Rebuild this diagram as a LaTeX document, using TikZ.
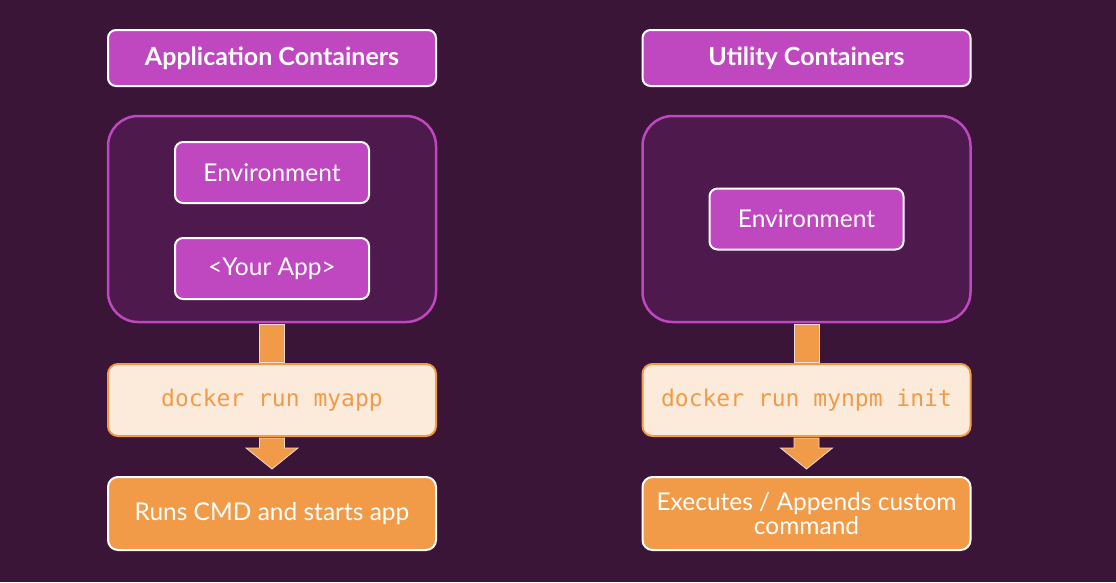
\documentclass[tikz,border=0pt]{standalone}
\usepackage{fontspec}
\setmainfont{Lato}
\setmonofont{DejaVu Sans Mono}
\usetikzlibrary{calc}
\definecolor{bgpurple}{HTML}{3B1538}
\definecolor{boxpurple}{HTML}{4E1A4E}
\definecolor{pink}{HTML}{BF47BF}
\definecolor{orange}{HTML}{F19B48}
\definecolor{cream}{HTML}{FCEBDB}
\definecolor{edge}{HTML}{EED8D4}

\begin{document}
\begin{tikzpicture}[x=1pt, y=-1pt]
            \tikzstyle{title} = [rounded corners=8pt, fill=pink, draw=white, line width=2pt, minimum width=328pt, minimum height=56pt, text=white, font=\fontsize{25}{29}\selectfont\bfseries]
            \tikzstyle{container} = [rounded corners=30pt, fill=boxpurple, draw=pink, line width=2.5pt, minimum width=328pt, minimum height=206pt]
            \tikzstyle{part} = [rounded corners=8pt, fill=pink, draw=white, line width=2pt, minimum width=194pt, minimum height=61pt, text=white, font=\fontsize{24.5}{28}\selectfont]
            \tikzstyle{command} = [rounded corners=10pt, fill=cream, draw=orange, line width=2pt, minimum width=328pt, minimum height=72pt, text=orange, font=\fontsize{23}{27}\selectfont\ttfamily]
            \tikzstyle{result} = [rounded corners=10pt, fill=orange, draw=white, line width=2pt, minimum width=328pt, minimum height=73pt, text=white, align=center, font=\fontsize{24.5}{28}\selectfont]
            \tikzstyle{blockarrow} = [fill=orange, draw=edge, line width=0.8pt]
            \fill[bgpurple] (0,0) rectangle (1116,582);
            \useasboundingbox (0,0) rectangle (1116,582);
            % application containers
            \node[title] (titleA) at (272, 58) {Application Containers};
            \node[container] (outerA) at (272, 219) {};
            \node[part] (envA) at (272, 172.5) {Environment};
            \node[part] (appA) at (272, 268.5) {<Your App>};
            \node[command] (cmdA) at (272, 400) {docker run myapp};
            \node[result] (resA) at (272, 513.5) {Runs CMD and starts app};
            % utility containers
            \node[title] (titleB) at (806.5, 58) {Utility Containers};
            \node[container] (outerB) at (806.5, 219) {};
            \node[part] (envB) at (806.5, 219) {Environment};
            \node[command] (cmdB) at (806.5, 400) {docker run mynpm init};
            \node[result] (resB) at (806.5, 513.5) {Executes / Appends custom\\[-4pt]command};
            % arrows
            \foreach \from/\to in {outerA/cmdA, outerB/cmdB}
                \draw[blockarrow] ($(\from.south)+(-12.5,1.5)$) -- ($(\to.north)+(-12.5,-1)$) -- ($(\to.north)+(12.5,-1)$) -- ($(\from.south)+(12.5,1.5)$) -- cycle;
            \foreach \from/\to in {cmdA/resA, cmdB/resB}
                \draw[blockarrow] ($(\from.south)+(-12.5,1)$) -- ($(\from.south)+(-12.5,11)$) -- ($(\from.south)+(-26,11)$) -- ($(\to.north)+(0,-7)$) -- ($(\from.south)+(26,11)$) -- ($(\from.south)+(12.5,11)$) -- ($(\from.south)+(12.5,1)$) -- cycle;
        \end{tikzpicture}
\end{document}
